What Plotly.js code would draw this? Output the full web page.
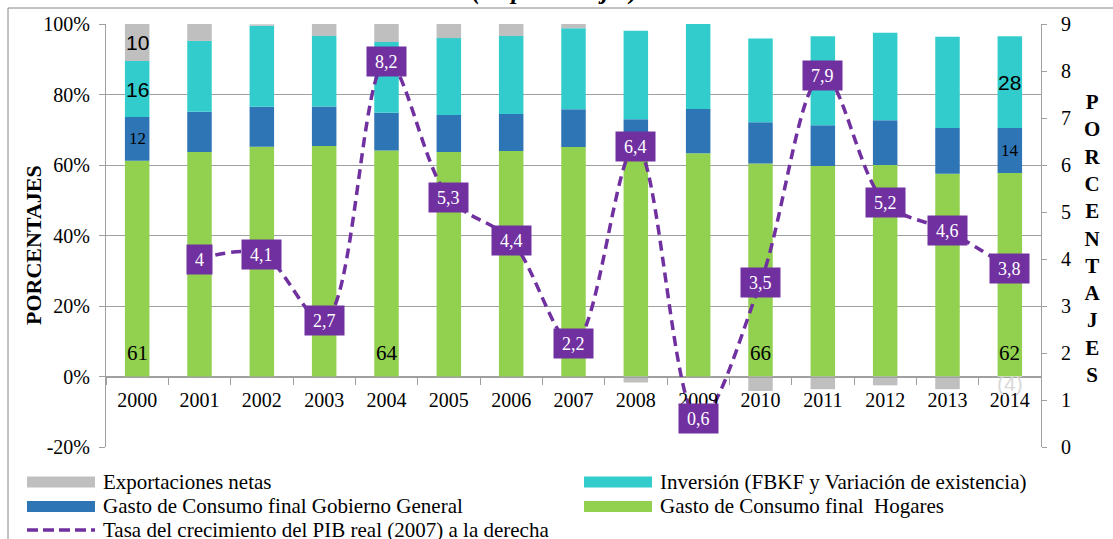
<!DOCTYPE html>
<html>
<head>
<meta charset="utf-8">
<script src="https://cdn.plot.ly/plotly-3.0.1.min.js"></script>
<style>html,body{margin:0;padding:0;background:#fff;}#chart{width:1113px;height:539px;}</style>
</head>
<body>
<div id="chart"></div>
<script>
// ---------- DATA ----------
const years = ['2000','2001','2002','2003','2004','2005','2006','2007','2008','2009','2010','2011','2012','2013','2014'];
const hogares      = [61.2, 63.7, 65.2, 65.4, 64.1, 63.7, 64.0, 65.1, 62.0, 63.3, 60.4, 59.7, 60.0, 57.5, 57.7];
const gobierno     = [12.4, 11.4, 11.3, 11.2, 10.7, 10.5, 10.5, 10.7, 11.0, 12.6, 11.7, 11.6, 12.7, 13.0, 12.8];
const inversion    = [15.9, 20.1, 23.0, 20.0, 20.1, 21.8, 22.1, 23.0, 25.1, 24.1, 23.8, 25.2, 24.8, 25.9, 26.0];
const exportaciones= [10.5, 4.8, 0.4, 3.4, 5.1, 4.0, 3.4, 1.2, -1.7, 0.0, -4.1, -3.6, -2.5, -3.6, -4.0];
const crecimiento  = [null, 4, 4.1, 2.7, 8.2, 5.3, 4.4, 2.2, 6.4, 0.6, 3.5, 7.9, 5.2, 4.6, 3.8];

const labelsHogares   = ['61','','','','64','','','','','','66','','','','62'];
const labelsGobierno  = ['12','','','','','','','','','','','','','','14'];
const labelsInversion = ['16','','','','','','','','','','','','','','28'];
const labelsExport    = ['10','','','','','','','','','','','','','','(4)'];

const leftTickVals  = [-20, 0, 20, 40, 60, 80, 100];
const leftTickText  = ['-20%', '0%', '20%', '40%', '60%', '80%', '100%'];

const seriesNames = {
  exp: 'Exportaciones netas',
  inv: 'Inversión (FBKF y Variación de existencia)',
  gob: 'Gasto de Consumo final Gobierno General',
  hog: 'Gasto de Consumo final\u00a0 Hogares',
  tasa: 'Tasa del crecimiento del PIB real (2007) a la derecha'
};
const yTitle = 'PORCENTAJES';
const chartTitle = '(en porcentajes)';

// ---------- STYLE ----------
const C = {grey:'#BFBFBF', cyan:'#33CCCC', blue:'#2E75B6', green:'#92D050', purple:'#7030A0', axis:'#A0A0A0'};
const SERIF = 'Liberation Serif, Times New Roman, serif';
const SANS = 'Liberation Sans, Arial, sans-serif';
const W = 1113, H = 539, ML = 106, MR = 72, MT = 24, MB = 92;
const PW = W - ML - MR, PH = H - MT - MB;
const pxX = x => (x - ML) / PW;
const pxY = y => (H - MB - y) / PH;

// ---------- TRACES ----------
const barBase = {type:'bar', x: years, hoverinfo:'skip', marker:{line:{width:0}}};
const traces = [
  Object.assign({}, barBase, {name: seriesNames.hog, y: hogares, marker:{color:C.green}}),
  Object.assign({}, barBase, {name: seriesNames.gob, y: gobierno, marker:{color:C.blue}}),
  Object.assign({}, barBase, {name: seriesNames.inv, y: inversion, marker:{color:C.cyan}}),
  Object.assign({}, barBase, {name: seriesNames.exp, y: exportaciones,
      marker:{color: years.map((_, i) => i === years.length - 1 ? '#FFFFFF' : C.grey)}}),
  {type:'scatter', mode:'lines', name: seriesNames.tasa, x: years, y: crecimiento, yaxis:'y2',
   hoverinfo:'skip', line:{color:C.purple, width:3.5, dash:'10px,6px', shape:'spline', smoothing:1}}
];

// ---------- ANNOTATIONS ----------
const ann = [];
// growth labels (purple boxes); x given as category index
crecimiento.forEach((v, i) => {
  if (v === null) return;
  const t = String(v).replace('.', ',');
  let w = 16;
  for (const ch of t) w += (ch === ',' ? 4.5 : 9);
  ann.push({xref:'x', yref:'y2', x: i, y: v, xanchor:'center', yanchor:'middle', text: t, showarrow:false,
    bgcolor:C.purple, borderpad:0, width: w, height: 29,
    font:{family:SERIF, size:18, color:'#FFFFFF'}});
});
// segment labels
years.forEach((yr, i) => {
  if (labelsHogares[i]) ann.push({xref:'x', yref:'y', x: i, y: 0, xanchor:'center', yanchor:'middle', yshift: 23.5,
    text: labelsHogares[i], showarrow:false, font:{family:SERIF, size:21, color:'#000'}});
  const g0 = hogares[i], g1 = g0 + gobierno[i], g2 = g1 + inversion[i];
  if (labelsGobierno[i]) ann.push({xref:'x', yref:'y', x: i, y: (g0 + g1) / 2, xanchor:'center', yanchor:'middle',
    text: labelsGobierno[i], showarrow:false, font:{family:SERIF, size:17, color:'#000'}});
  if (labelsInversion[i]) ann.push({xref:'x', yref:'y', x: i, y: (g1 + g2) / 2, xanchor:'center', yanchor:'middle',
    text: labelsInversion[i], showarrow:false, font:{family:SANS, size:21, color:'#000'}});
  if (labelsExport[i]) {
    const e = exportaciones[i];
    const yMid = e >= 0 ? g2 + e / 2 : e / 2;
    ann.push({xref:'x', yref:'y', x: i, y: yMid, xanchor:'center', yanchor:'middle', text: labelsExport[i], showarrow:false,
      font:{family:SANS, size:21, color: e >= 0 ? '#000' : '#D9D9D9'}});
  }
});
// axis titles
ann.push({xref:'paper', yref:'paper', x: pxX(33), y: pxY(245), xanchor:'center', yanchor:'middle',
  text:'<b>' + yTitle + '</b>', textangle:-90,
  showarrow:false, font:{family:SERIF, size:22, color:'#000'}});
ann.push({xref:'paper', yref:'paper', x: pxX(1092), y: pxY(239), xanchor:'center', yanchor:'middle',
  text:'<b>' + yTitle.split('').join('<br>') + '</b>', showarrow:false,
  font:{family:SERIF, size:21, color:'#000'}});
// chart title (cut at top, as in the reference)
ann.push({xref:'paper', yref:'paper', x: pxX(555), y: pxY(7), xanchor:'center', yanchor:'bottom',
  text:'<b><i>' + chartTitle + '</i></b>',
  showarrow:false, font:{family:SERIF, size:25, color:'#000'}});

// ---------- LEGEND (custom) ----------
const shapes = [
  {type:'line', xref:'paper', yref:'paper', x0:pxX(8), x1:pxX(W+2), y0:pxY(8), y1:pxY(8), line:{color:'#868686', width:1}},
  {type:'line', xref:'paper', yref:'paper', x0:pxX(8), x1:pxX(8), y0:pxY(8), y1:pxY(H+2), line:{color:'#868686', width:1}}
];
const legendItems = [
  {name: seriesNames.exp, color: C.grey, col:0, row:0},
  {name: seriesNames.inv, color: C.cyan, col:1, row:0},
  {name: seriesNames.gob, color: C.blue, col:0, row:1},
  {name: seriesNames.hog, color: C.green, col:1, row:1},
  {name: seriesNames.tasa, color: C.purple, col:0, row:2, line:true}
];
const colX = [27, 584], rowY = [482, 506.5, 530], swW = 68;
legendItems.forEach(it => {
  const x0 = colX[it.col], yc = rowY[it.row];
  if (it.line) {
    shapes.push({type:'line', xref:'paper', yref:'paper', x0:pxX(x0), x1:pxX(x0 + swW), y0:pxY(yc), y1:pxY(yc),
      line:{color: it.color, width:3.5, dash:'11px,5px'}});
  } else {
    shapes.push({type:'rect', xref:'paper', yref:'paper', x0:pxX(x0), x1:pxX(x0 + swW), y0:pxY(yc - 5.5), y1:pxY(yc + 5.5),
      fillcolor: it.color, line:{width:0}});
  }
  ann.push({xref:'paper', yref:'paper', x: pxX(x0 + swW + 6), y: pxY(yc), xanchor:'left', yanchor:'middle',
    text: it.name, showarrow:false, font:{family:SERIF, size:21, color:'#000'}});
});

// ---------- LAYOUT ----------
const layout = {
  width: W, height: H,
  margin: {l: ML, r: MR, t: MT, b: MB, pad: 0},
  paper_bgcolor:'#FFFFFF', plot_bgcolor:'#FFFFFF',
  barmode:'relative', bargap:0.607,
  showlegend:false,
  font:{family:SERIF, size:20, color:'#000'},
  xaxis:{type:'category', range:[-0.5, years.length - 0.5], anchor:'free', position: 20/120,
    showline:true, linecolor:C.axis, linewidth:1,
    ticks:'outside', ticklen:7, tickcolor:C.axis, tickson:'boundaries', showgrid:false, zeroline:false,
    tickfont:{family:SERIF, size:20, color:'#000'}, ticklabelstandoff:5, tickangle:0, automargin:false, fixedrange:true},
  yaxis:{range:[-20, 100], tickmode:'array', tickvals: leftTickVals, ticktext: leftTickText,
    showgrid:true, gridcolor:C.axis, gridwidth:1,
    zeroline:true, zerolinecolor:C.axis, zerolinewidth:1,
    showline:true, linecolor:C.axis, linewidth:1, ticks:'outside', ticklen:6, tickcolor:C.axis,
    tickfont:{family:SERIF, size:20, color:'#000'}, ticklabelstandoff:5, automargin:false, fixedrange:true},
  yaxis2:{range:[0, 9], dtick:1, overlaying:'y', side:'right', showgrid:false, zeroline:false,
    showline:true, linecolor:C.axis, linewidth:1, ticks:'outside', ticklen:5, tickcolor:C.axis,
    tickfont:{family:SERIF, size:20, color:'#000'}, ticklabelstandoff:10, automargin:false, fixedrange:true},
  annotations: ann,
  shapes: shapes
};

Plotly.newPlot('chart', traces, layout, {staticPlot:true, displayModeBar:false});
</script>
</body>
</html>
